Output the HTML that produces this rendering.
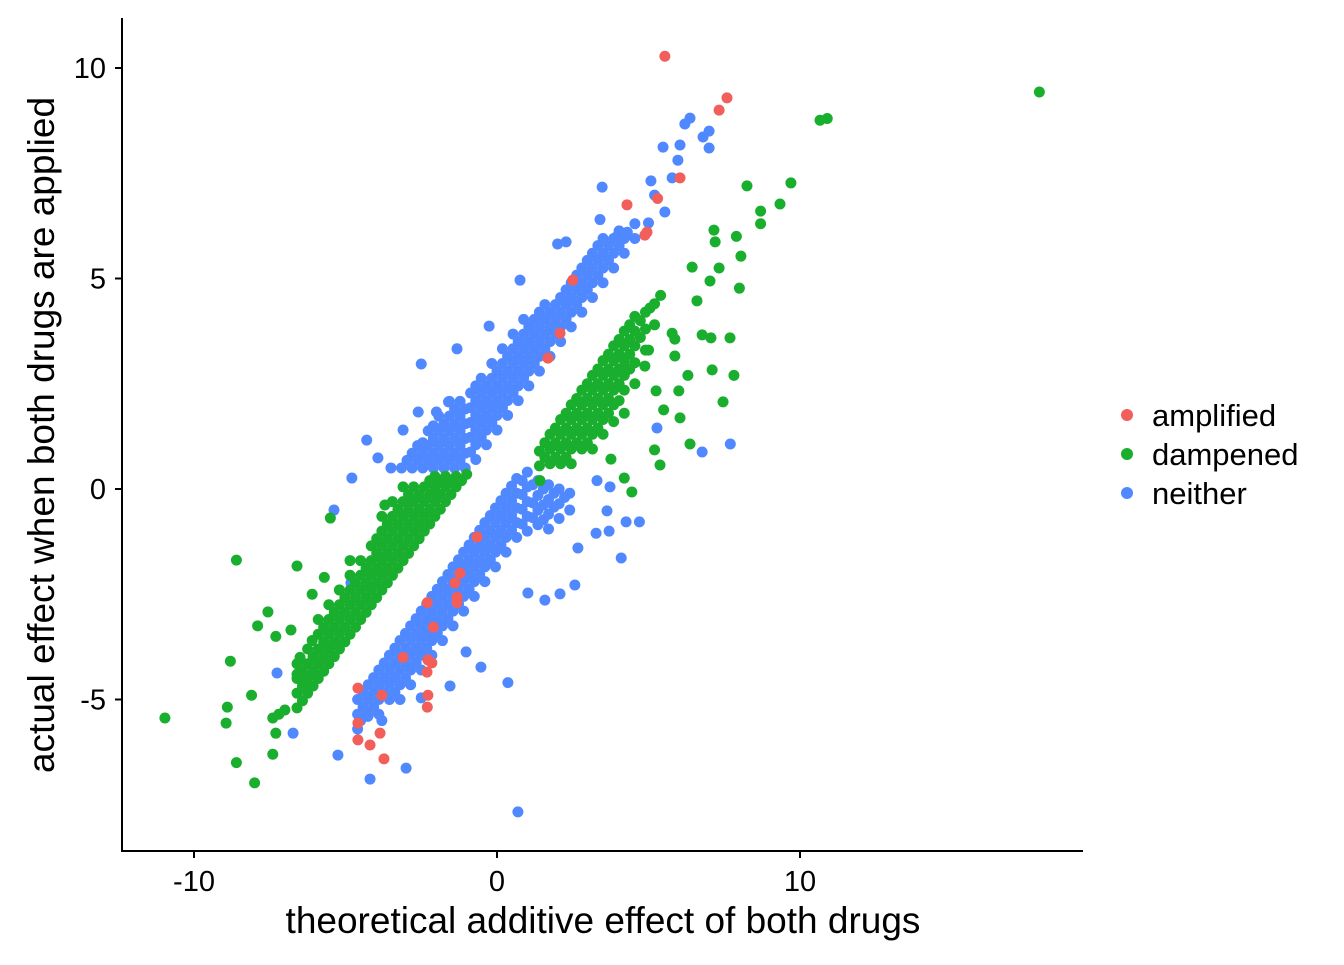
<!DOCTYPE html>
<html><head><meta charset="utf-8"><style>
html,body{margin:0;padding:0;background:#fff;}
svg text{font-family:"Liberation Sans",Arial,sans-serif;fill:#000;}
</style></head><body>
<svg id="chart" width="1344" height="960" viewBox="0 0 1344 960" xmlns="http://www.w3.org/2000/svg">
<g id="points"></g>
<line x1="122" y1="18" x2="122" y2="852" stroke="#000" stroke-width="2"/>
<line x1="121" y1="851" x2="1083" y2="851" stroke="#000" stroke-width="2"/>
<g id="ticks"></g>
<text x="603" y="933" font-size="37" text-anchor="middle">theoretical additive effect of both drugs</text>
<text transform="translate(54,435) rotate(-90)" font-size="37" text-anchor="middle">actual effect when both drugs are applied</text>
<g>
<circle cx="1127" cy="415" r="6" fill="#F25E5A"/>
<text x="1152" y="426" font-size="31">amplified</text>
<circle cx="1127" cy="454" r="6" fill="#1AAE2E"/>
<text x="1152" y="465" font-size="31">dampened</text>
<circle cx="1127" cy="493" r="6" fill="#5088FF"/>
<text x="1152" y="504" font-size="31">neither</text>
</g>
</svg>
<script>
const xTicks = [-10, 0, 10];
const yTicks = [-5, 0, 5, 10];
const neitherPts = [
[-3.5,0.5],[-3.15,0.5],[-2.8,0.5],[-2.8,0.85],[-2.45,0.5],[-2.45,0.85],[-2.45,1.1],
[-2.1,0.5],[-2.1,0.85],[-2.1,1.2],[-2.1,1.5],[-1.75,0.5],[-1.75,0.85],[-1.75,1.2],[-1.75,1.55],
[-1.4,0.5],[-1.4,0.85],[-1.4,1.2],[-1.4,1.55],[-1.4,1.9],[-1.05,0.5],[-1.05,0.85],[-1.05,1.2],[-1.05,1.55],[-1.05,1.9],
[-0.7,0.7],[-0.7,1.05],[-0.7,1.4],[-0.7,1.75],[-0.7,2.1],[-0.7,2.45],
[-0.35,1.05],[-0.35,1.4],[-0.35,1.75],[-0.35,2.1],[-0.35,2.45],
[0.0,1.4],[0.0,1.75],[0.0,2.1],[0.0,2.45],[0.0,2.8],
[0.35,1.75],[0.35,2.1],[0.35,2.45],[0.35,2.8],[0.35,3.15],
[0.7,2.1],[0.7,2.45],[0.7,2.8],[0.7,3.15],[0.7,3.5],
[1.05,2.45],[1.05,2.8],[1.05,3.15],[1.05,3.5],[1.05,3.85],
[1.4,2.8],[1.4,3.15],[1.4,3.5],[1.4,3.85],[1.4,4.2],
[1.75,3.15],[1.75,3.5],[1.75,3.85],[1.75,4.2],
[2.1,3.5],[2.1,3.85],[2.1,4.2],[2.1,4.55],
[2.45,3.85],[2.45,4.2],[2.45,4.55],[2.45,4.9],
[2.8,4.2],[2.8,4.55],[2.8,4.9],[2.8,5.25],
[3.15,4.55],[3.15,4.9],[3.15,5.25],[3.15,5.6],
[3.5,4.9],[3.5,5.25],[3.5,5.6],[3.5,5.95],
[3.85,5.25],[3.85,5.6],[3.85,5.95],[4.2,5.6],[4.2,5.95],[4.55,5.95],[4.55,6.3],
[-2.97,0.68],[-2.62,0.68],[-2.62,1.03],[-2.27,0.68],[-2.27,1.03],[-2.27,1.38],[-1.92,0.68],[-1.92,1.03],[-1.92,1.38],[-1.92,1.73],
[-1.57,0.68],[-1.57,1.03],[-1.57,1.38],[-1.57,1.73],[-1.57,2.08],[-1.22,0.68],[-1.22,1.03],[-1.22,1.38],[-1.22,1.73],[-1.22,2.08],
[-0.87,0.88],[-0.87,1.23],[-0.87,1.58],[-0.87,1.93],[-0.87,2.28],[-0.52,1.23],[-0.52,1.58],[-0.52,1.93],[-0.52,2.28],[-0.52,2.63],
[-0.17,1.58],[-0.17,1.93],[-0.17,2.28],[-0.17,2.63],[-0.17,2.98],[0.18,1.93],[0.18,2.28],[0.18,2.63],[0.18,2.98],[0.18,3.33],
[0.53,2.28],[0.53,2.63],[0.53,2.98],[0.53,3.33],[0.53,3.68],[0.88,2.63],[0.88,2.98],[0.88,3.33],[0.88,3.68],[0.88,4.03],
[1.23,2.98],[1.23,3.33],[1.23,3.68],[1.23,4.03],[1.58,3.33],[1.58,3.68],[1.58,4.03],[1.58,4.38],[1.93,3.68],[1.93,4.03],[1.93,4.38],
[2.28,4.03],[2.28,4.38],[2.28,4.73],[2.63,4.38],[2.63,4.73],[2.63,5.08],[2.98,4.73],[2.98,5.08],[2.98,5.43],[3.33,5.08],[3.33,5.43],[3.33,5.78],
[3.68,5.43],[3.68,5.78],[4.03,5.78],[4.03,6.13],
[6.37,8.81],[6.2,8.67],[7.0,8.5],[6.8,8.36],[7.0,8.1],[6.04,8.17],[5.48,8.12],[5.97,7.81],
[5.78,7.39],[5.2,6.98],[5.54,6.58],[5.08,7.32],[3.47,7.17],[5.0,6.32],[2.0,5.82],[2.28,5.87],
[0.76,4.96],[-0.26,3.87],[-1.32,3.33],[-2.5,2.97],[-3.1,1.4],[-3.93,0.74],[-4.79,0.26],[-5.38,-0.5],
[-2.0,1.83],[-2.6,1.83],[-1.6,2.07],[3.4,6.4],[3.96,6.0],[4.3,6.1],[-4.3,1.16],
[-4.6,-5.0],[-4.6,-5.35],[-4.6,-5.7],[-4.25,-4.65],[-4.25,-5.0],[-4.25,-5.35],
[-3.9,-4.3],[-3.9,-4.65],[-3.9,-5.0],[-3.9,-5.35],[-3.55,-3.95],[-3.55,-4.3],[-3.55,-4.65],[-3.55,-5.0],
[-3.2,-3.6],[-3.2,-3.95],[-3.2,-4.3],[-3.2,-4.65],[-3.2,-5.0],
[-2.85,-3.25],[-2.85,-3.6],[-2.85,-3.95],[-2.85,-4.3],[-2.85,-4.65],
[-2.5,-2.9],[-2.5,-3.25],[-2.5,-3.6],[-2.5,-3.95],[-2.5,-4.3],
[-2.15,-2.55],[-2.15,-2.9],[-2.15,-3.25],[-2.15,-3.6],[-2.15,-3.95],
[-1.8,-2.2],[-1.8,-2.55],[-1.8,-2.9],[-1.8,-3.25],[-1.8,-3.6],
[-1.45,-1.85],[-1.45,-2.2],[-1.45,-2.55],[-1.45,-2.9],[-1.45,-3.25],
[-1.1,-1.5],[-1.1,-1.85],[-1.1,-2.2],[-1.1,-2.55],[-1.1,-2.9],
[-0.75,-1.15],[-0.75,-1.5],[-0.75,-1.85],[-0.75,-2.2],[-0.75,-2.55],
[-0.4,-0.8],[-0.4,-1.15],[-0.4,-1.5],[-0.4,-1.85],[-0.4,-2.2],
[-0.05,-0.45],[-0.05,-0.8],[-0.05,-1.15],[-0.05,-1.5],[-0.05,-1.85],
[0.3,-0.1],[0.3,-0.45],[0.3,-0.8],[0.3,-1.15],[0.3,-1.5],
[0.65,0.25],[0.65,-0.1],[0.65,-0.45],[0.65,-0.8],[0.65,-1.15],
[1.0,0.4],[1.0,0.05],[1.0,-0.3],[1.0,-0.65],[1.0,-1.0],
[1.35,0.2],[1.35,-0.15],[1.35,-0.5],[1.35,-0.85],[1.7,0.1],[1.7,-0.25],[1.7,-0.6],[1.7,-0.95],
[2.05,0.0],[2.05,-0.35],[2.05,-0.7],[2.4,-0.1],[2.4,-0.5],
[-4.42,-4.83],[-4.42,-5.18],[-4.07,-4.48],[-4.07,-4.83],[-4.07,-5.18],[-3.72,-4.13],[-3.72,-4.48],[-3.72,-4.83],
[-3.37,-3.78],[-3.37,-4.13],[-3.37,-4.48],[-3.37,-4.83],[-3.02,-3.43],[-3.02,-3.78],[-3.02,-4.13],[-3.02,-4.48],
[-2.67,-3.08],[-2.67,-3.43],[-2.67,-3.78],[-2.67,-4.13],[-2.32,-2.73],[-2.32,-3.08],[-2.32,-3.43],[-2.32,-3.78],
[-1.97,-2.38],[-1.97,-2.73],[-1.97,-3.08],[-1.97,-3.43],[-1.62,-2.03],[-1.62,-2.38],[-1.62,-2.73],[-1.62,-3.08],
[-1.27,-1.68],[-1.27,-2.03],[-1.27,-2.38],[-1.27,-2.73],[-0.92,-1.33],[-0.92,-1.68],[-0.92,-2.03],[-0.92,-2.38],
[-0.57,-0.98],[-0.57,-1.33],[-0.57,-1.68],[-0.57,-2.03],[-0.22,-0.63],[-0.22,-0.98],[-0.22,-1.33],[-0.22,-1.68],
[0.13,-0.28],[0.13,-0.63],[0.13,-0.98],[0.13,-1.33],[0.48,0.07],[0.48,-0.28],[0.48,-0.63],[0.48,-0.98],
[0.83,0.2],[0.83,-0.13],[0.83,-0.48],[0.83,-0.83],[1.18,0.1],[1.18,-0.33],[1.18,-0.68],[1.53,0.0],[1.53,-0.38],[1.53,-0.73],
[1.88,-0.1],[1.88,-0.43],[2.23,-0.2],
[0.69,-7.67],[0.36,-4.6],[-0.53,-4.23],[-1.02,-3.87],[1.02,-2.47],[2.08,-2.49],[1.58,-2.64],[2.57,-2.28],
[3.27,-1.05],[2.67,-1.4],[3.7,-1.0],[4.1,-1.64],[4.7,-0.78],[4.26,-0.78],[3.63,-0.52],[3.73,0.05],
[7.7,1.07],[6.77,0.88],[5.28,1.45],[3.3,0.2],[-5.25,-6.32],[-4.19,-6.89],[-3.0,-6.63],[-4.82,-2.23],
[-7.26,-4.37],[-6.73,-5.8],[-3.8,-5.5],[-1.55,-4.68],[-2.5,-4.96],[-4.5,-5.5],[-4.26,-5.4]
];
const dampenedPts = [
[-6.6,-5.2],[-6.6,-4.85],[-6.6,-4.5],[-6.6,-4.15],[-6.25,-4.85],[-6.25,-4.5],[-6.25,-4.15],[-6.25,-3.8],
[-5.9,-4.5],[-5.9,-4.15],[-5.9,-3.8],[-5.9,-3.45],[-5.9,-3.1],
[-5.55,-4.15],[-5.55,-3.8],[-5.55,-3.45],[-5.55,-3.1],[-5.55,-2.75],
[-5.2,-3.8],[-5.2,-3.45],[-5.2,-3.1],[-5.2,-2.75],[-5.2,-2.4],
[-4.85,-3.45],[-4.85,-3.1],[-4.85,-2.75],[-4.85,-2.4],[-4.85,-2.05],
[-4.5,-3.1],[-4.5,-2.75],[-4.5,-2.4],[-4.5,-2.05],[-4.5,-1.7],
[-4.15,-2.75],[-4.15,-2.4],[-4.15,-2.05],[-4.15,-1.7],[-4.15,-1.35],
[-3.8,-2.4],[-3.8,-2.05],[-3.8,-1.7],[-3.8,-1.35],[-3.8,-1.0],[-3.8,-0.65],
[-3.45,-2.05],[-3.45,-1.7],[-3.45,-1.35],[-3.45,-1.0],[-3.45,-0.65],[-3.45,-0.3],
[-3.1,-1.7],[-3.1,-1.35],[-3.1,-1.0],[-3.1,-0.65],[-3.1,-0.3],[-3.1,0.05],
[-2.75,-1.35],[-2.75,-1.0],[-2.75,-0.65],[-2.75,-0.3],[-2.75,0.05],
[-2.4,-1.0],[-2.4,-0.65],[-2.4,-0.3],[-2.4,0.05],[-2.05,-0.65],[-2.05,-0.3],[-2.05,0.05],[-2.05,0.3],
[-1.7,-0.3],[-1.7,0.05],[-1.7,0.3],[-1.35,0.05],[-1.35,0.3],[-1.0,0.35],
[-6.42,-5.03],[-6.42,-4.68],[-6.42,-4.33],[-6.07,-4.68],[-6.07,-4.33],[-6.07,-3.98],[-5.72,-4.33],[-5.72,-3.98],[-5.72,-3.63],[-5.72,-3.28],
[-5.37,-3.98],[-5.37,-3.63],[-5.37,-3.28],[-5.37,-2.93],[-5.02,-3.63],[-5.02,-3.28],[-5.02,-2.93],[-5.02,-2.58],
[-4.67,-3.28],[-4.67,-2.93],[-4.67,-2.58],[-4.67,-2.23],[-4.32,-2.93],[-4.32,-2.58],[-4.32,-2.23],[-4.32,-1.88],
[-3.97,-2.58],[-3.97,-2.23],[-3.97,-1.88],[-3.97,-1.53],[-3.97,-1.18],[-3.62,-2.23],[-3.62,-1.88],[-3.62,-1.53],[-3.62,-1.18],[-3.62,-0.83],
[-3.27,-1.88],[-3.27,-1.53],[-3.27,-1.18],[-3.27,-0.83],[-3.27,-0.48],[-2.92,-1.53],[-2.92,-1.18],[-2.92,-0.83],[-2.92,-0.48],[-2.92,-0.13],
[-2.57,-1.18],[-2.57,-0.83],[-2.57,-0.48],[-2.57,-0.13],[-2.22,-0.83],[-2.22,-0.48],[-2.22,-0.13],[-2.22,0.2],
[-1.87,-0.48],[-1.87,-0.13],[-1.87,0.2],[-1.52,-0.13],[-1.52,0.2],[-1.17,0.2],
[-10.96,-5.44],[-8.6,-1.69],[-8.8,-4.09],[-8.9,-5.18],[-8.94,-5.56],[-8.6,-6.5],[-8.0,-6.98],[-7.4,-6.3],
[-7.3,-5.8],[-7.4,-5.44],[-7.2,-5.35],[-7.0,-5.25],[-7.56,-2.92],[-7.9,-3.25],[-7.3,-3.5],[-6.6,-1.83],
[-6.8,-3.35],[-5.7,-2.1],[-5.5,-0.69],[-8.1,-4.9],[-6.1,-2.5],[-6.5,-4.0],[-6.6,-4.4],[-6.3,-4.6],
[-6.1,-3.6],[-5.2,-2.4],[-4.85,-1.7],[-3.7,-0.38],[-2.87,-0.26],[-1.9,-0.14],
[1.4,0.9],[1.4,0.55],[1.75,1.3],[1.75,0.95],[1.75,0.6],[2.1,1.65],[2.1,1.3],[2.1,0.95],[2.1,0.6],
[2.45,2.0],[2.45,1.65],[2.45,1.3],[2.45,0.95],[2.45,0.6],[2.8,2.35],[2.8,2.0],[2.8,1.65],[2.8,1.3],[2.8,0.95],
[3.15,2.7],[3.15,2.35],[3.15,2.0],[3.15,1.65],[3.15,1.3],[3.15,0.95],
[3.5,3.05],[3.5,2.7],[3.5,2.35],[3.5,2.0],[3.5,1.65],[3.5,1.3],
[3.85,3.4],[3.85,3.05],[3.85,2.7],[3.85,2.35],[3.85,2.0],[3.85,1.6],
[4.2,3.75],[4.2,3.4],[4.2,3.05],[4.2,2.7],[4.2,2.35],[4.2,1.8],
[4.55,4.1],[4.55,3.75],[4.55,3.4],[4.55,3.0],[4.55,2.5],[4.9,4.2],[4.9,3.8],[4.9,3.3],[5.2,4.4],[5.2,3.9],[5.4,4.6],
[1.58,1.1],[1.58,0.75],[1.93,1.45],[1.93,1.1],[1.93,0.75],[2.28,1.8],[2.28,1.45],[2.28,1.1],[2.28,0.75],
[2.63,2.15],[2.63,1.8],[2.63,1.45],[2.63,1.1],[2.98,2.5],[2.98,2.15],[2.98,1.8],[2.98,1.45],[2.98,1.1],
[3.33,2.85],[3.33,2.5],[3.33,2.15],[3.33,1.8],[3.33,1.45],[3.68,3.2],[3.68,2.85],[3.68,2.5],[3.68,2.15],[3.68,1.8],
[4.03,3.55],[4.03,3.2],[4.03,2.85],[4.03,2.5],[4.03,2.1],[4.38,3.9],[4.38,3.55],[4.38,3.2],[4.38,2.85],[4.73,4.0],[4.73,3.6],[5.05,4.3],
[17.9,9.43],[10.66,8.76],[10.9,8.8],[9.7,7.27],[9.34,6.77],[8.25,7.2],[8.7,6.6],[8.7,6.3],[8.05,5.53],
[7.9,6.0],[7.16,6.15],[7.2,5.87],[7.33,5.25],[6.44,5.27],[6.6,4.47],[7.03,4.94],[8.0,4.77],[7.69,3.59],
[7.06,3.59],[5.87,3.56],[5.78,3.7],[7.82,2.7],[7.46,2.07],[7.1,2.83],[6.3,2.7],[6.0,2.33],[5.25,2.33],
[5.5,1.88],[6.04,1.69],[6.37,1.07],[5.38,0.57],[5.2,0.93],[4.45,-0.07],[4.2,0.26],[3.76,0.71],
[4.3,2.83],[4.88,2.92],[5.0,3.3],[5.87,3.16],[6.77,3.66],[1.42,0.2]
];
const amplifiedPts = [
[5.54,10.28],[7.59,9.29],[7.33,9.0],[4.29,6.75],[4.88,6.03],[5.3,6.9],[6.04,7.39],[2.5,4.96],
[2.08,3.7],[4.95,6.1],[1.68,3.11],[-0.66,-1.14],[-1.22,-2.0],[-1.39,-2.23],[-2.3,-2.7],[-2.1,-3.28],
[-2.28,-4.06],[-2.31,-4.35],[-4.59,-4.73],[-3.8,-4.9],[-1.32,-2.7],[-2.28,-4.9],[-2.3,-5.18],
[-4.59,-5.56],[-4.59,-5.96],[-4.19,-6.08],[-3.86,-5.8],[-3.73,-6.41],[-3.1,-4.0],[-2.15,-4.13],[-1.32,-2.57]
];
const seriesNames = ["neither","dampened","amplified"];
const seriesColors = {neither:"#5088FF", dampened:"#1AAE2E", amplified:"#F25E5A"};

const NS = "http://www.w3.org/2000/svg";
function xs(v){ return 497 + v*30.3; }
function ys(v){ return 489 - v*42.1; }

const layer = document.getElementById('points');
const seriesData = {neither:neitherPts, dampened:dampenedPts, amplified:amplifiedPts};
seriesNames.forEach(name => {
  const g = document.createElementNS(NS,'g');
  
  
  seriesData[name].forEach(p => {
    const c = document.createElementNS(NS,'circle');
    c.setAttribute('cx', xs(p[0]));
    c.setAttribute('cy', ys(p[1]));
    c.setAttribute('r', 5.5);
    c.setAttribute('fill', seriesColors[name]);
    
    
    g.appendChild(c);
  });
  layer.appendChild(g);
});

const tg = document.getElementById('ticks');
xTicks.forEach(t => {
  const l = document.createElementNS(NS,'line');
  l.setAttribute('x1', xs(t)); l.setAttribute('x2', xs(t));
  l.setAttribute('y1', 851); l.setAttribute('y2', 858);
  l.setAttribute('stroke', '#000'); l.setAttribute('stroke-width', 2);
  
  
  tg.appendChild(l);
  const tx = document.createElementNS(NS,'text');
  tx.setAttribute('x', xs(t)); tx.setAttribute('y', 891);
  tx.setAttribute('font-size', 29); tx.setAttribute('text-anchor', 'middle');
  tx.setAttribute('fill', '#1a1a1a');
  tx.textContent = t;
  
  
  tg.appendChild(tx);
});
yTicks.forEach(t => {
  const l = document.createElementNS(NS,'line');
  l.setAttribute('x1', 115); l.setAttribute('x2', 122);
  l.setAttribute('y1', ys(t)); l.setAttribute('y2', ys(t));
  l.setAttribute('stroke', '#000'); l.setAttribute('stroke-width', 2);
  
  
  tg.appendChild(l);
  const tx = document.createElementNS(NS,'text');
  tx.setAttribute('x', 106); tx.setAttribute('y', ys(t) + 10);
  tx.setAttribute('font-size', 29); tx.setAttribute('text-anchor', 'end');
  tx.setAttribute('fill', '#1a1a1a');
  tx.textContent = t;
  
  
  tg.appendChild(tx);
});
</script>
</body></html>
